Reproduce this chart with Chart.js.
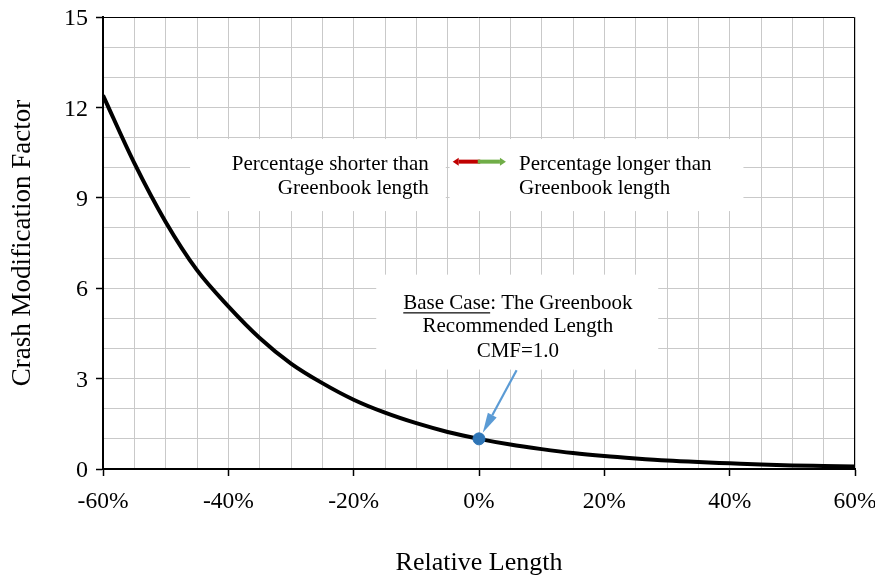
<!DOCTYPE html>
<html>
<head>
<meta charset="utf-8">
<script src="https://cdn.jsdelivr.net/npm/chart.js@4.4.1/dist/chart.umd.min.js"></script>
<style>
  html, body { margin: 0; padding: 0; background: #fff; }
  #wrap { width: 875px; height: 577px; }
</style>
</head>
<body>
<div id="wrap"><canvas id="myChart" width="875" height="577"></canvas></div>
<script>
// values
const relLength = [-60, -55, -50, -45, -40, -35, -30, -25, -20, -15, -10, -5, 0,
                   5, 10, 15, 20, 25, 30, 35, 40, 45, 50, 55, 60];
const cmf = [12.4, 10.15, 8.2, 6.6, 5.4, 4.35, 3.5, 2.85, 2.3, 1.87, 1.52, 1.23, 1.0,
             0.81, 0.66, 0.53, 0.43, 0.35, 0.28, 0.23, 0.19, 0.15, 0.12, 0.10, 0.08];
const baseCase = [{ x: 0, y: 1.0 }];

const serif = "'Liberation Serif', 'Times New Roman', serif";
const gridGray = '#c9c9c9';

function arrow(c, x1, y1, x2, y2, color, width, headLen, headW) {
    const a = Math.atan2(y2 - y1, x2 - x1);
    const bx = x2 - headLen * Math.cos(a), by = y2 - headLen * Math.sin(a);
    c.strokeStyle = color;
    c.lineWidth = width;
    c.beginPath();
    c.moveTo(x1, y1);
    c.lineTo(bx, by);
    c.stroke();
    c.fillStyle = color;
    c.beginPath();
    c.moveTo(x2, y2);
    c.lineTo(bx + headW * Math.sin(a), by - headW * Math.cos(a));
    c.lineTo(bx - headW * Math.sin(a), by + headW * Math.cos(a));
    c.closePath();
    c.fill();
}

const notes = {
    id: 'notes',
    beforeDatasetsDraw(chart) {
        const c = chart.ctx, x = chart.scales.x, y = chart.scales.y;
        const px = v => x.getPixelForValue(v), py = v => y.getPixelForValue(v);
        c.save();
        // white label boxes over the grid
        c.fillStyle = '#fff';
        c.fillRect(px(-46.1), py(10.95), px(-5.3) - px(-46.1), py(8.56) - py(10.95));
        c.fillRect(px(-4.7), py(10.95), px(42.2) - px(-4.7), py(8.56) - py(10.95));
        c.fillRect(px(-16.4), py(6.45), px(28.6) - px(-16.4), py(3.3) - py(6.45));

        c.fillStyle = '#000';
        c.font = '21px ' + serif;
        c.textBaseline = 'middle';
        c.textAlign = 'right';
        c.fillText('Percentage shorter than', px(-8.0), py(10.12));
        c.fillText('Greenbook length', px(-8.0), py(9.32));
        c.textAlign = 'left';
        c.fillText('Percentage longer than', px(6.4), py(10.12));
        c.fillText('Greenbook length', px(6.4), py(9.32));

        // base case label
        const cx = px(6.2);
        const t1 = 'Base Case', t2 = ': The Greenbook';
        const w1 = c.measureText(t1).width, w2 = c.measureText(t2).width;
        const sx = cx - (w1 + w2) / 2;
        c.fillText(t1, sx, py(5.5));
        c.fillText(t2, sx + w1, py(5.5));
        c.fillRect(sx, py(5.5) + 9, w1, 1.2);
        c.textAlign = 'center';
        c.fillText('Recommended Length', cx, py(4.72));
        c.fillText('CMF=1.0', cx, py(3.9));

        // red / green direction arrow
        const ay = py(10.2);
        arrow(c, px(0.2), ay, px(-4.2), ay, '#c00000', 4, 6, 4);
        arrow(c, px(-0.2), ay, px(4.3), ay, '#70ad47', 4, 6, 4);
        c.restore();
    },
    afterDatasetsDraw(chart) {
        const c = chart.ctx, x = chart.scales.x, y = chart.scales.y;
        const px = v => x.getPixelForValue(v), py = v => y.getPixelForValue(v);
        c.save();
        arrow(c, px(6.0), py(3.28), px(0.6), py(1.2), '#5b9bd5', 2.2, 20, 5);
        // frame on top and right
        const a = chart.chartArea;
        c.strokeStyle = '#000';
        c.lineWidth = 1;
        c.beginPath();
        c.moveTo(a.left, a.top + 0.5);
        c.lineTo(a.right - 0.5, a.top + 0.5);
        c.lineTo(a.right - 0.5, a.bottom);
        c.stroke();
        c.restore();
    }
};

const ctx = document.getElementById('myChart').getContext('2d');
const myChart = new Chart(ctx, {
    type: 'scatter',
    data: {
        datasets: [{
            label: 'Base case',
            data: baseCase,
            pointRadius: 6,
            pointBackgroundColor: '#2e75b6',
            pointBorderColor: '#2e75b6',
            order: 0
        }, {
            label: 'CMF',
            data: relLength.map((v, i) => ({ x: v, y: cmf[i] })),
            showLine: true,
            borderColor: '#000',
            borderWidth: 4,
            pointRadius: 0,
            cubicInterpolationMode: 'monotone',
            order: 1
        }]
    },
    options: {
        responsive: false,
        animation: false,
        events: [],
        layout: { padding: { top: 17, right: 20, left: 0, bottom: 0 } },
        plugins: {
            legend: { display: false },
            title: { display: false },
            tooltip: { enabled: false }
        },
        scales: {
            x: {
                type: 'linear',
                min: -60,
                max: 60,
                afterFit: s => { s.height = 108; s.paddingLeft = 0; s.paddingRight = 0; },
                ticks: {
                    stepSize: 5,
                    autoSkip: false,
                    maxRotation: 0,
                    minRotation: 0,
                    padding: 12,
                    color: '#000',
                    font: { family: serif, size: 23.5 },
                    callback: v => (v % 20 === 0 ? v + '%' : '')
                },
                grid: {
                    color: gridGray,
                    lineWidth: 1,
                    tickLength: 7,
                    tickColor: c => (c.tick && c.tick.value % 20 === 0 ? '#000' : 'rgba(0,0,0,0)'),
                    tickWidth: 1.5
                },
                border: { color: '#000', width: 2 },
                title: {
                    display: true,
                    text: 'Relative Length',
                    color: '#000',
                    font: { family: serif, size: 26, lineHeight: 1.0 },
                    padding: { top: 0, bottom: 1 }
                }
            },
            y: {
                min: 0,
                max: 15,
                afterFit: s => { s.width = 103; s.paddingTop = 0; s.paddingBottom = 0; },
                ticks: {
                    stepSize: 1,
                    autoSkip: false,
                    padding: 8,
                    labelOffset: 2,
                    color: '#000',
                    font: { family: serif, size: 24 },
                    callback: v => (v % 3 === 0 ? v : '')
                },
                grid: {
                    color: gridGray,
                    lineWidth: 1,
                    tickLength: 7,
                    tickColor: c => (c.tick && c.tick.value % 3 === 0 ? '#000' : 'rgba(0,0,0,0)'),
                    tickWidth: 1.5
                },
                border: { color: '#000', width: 2 },
                title: {
                    display: true,
                    text: 'Crash Modification Factor',
                    color: '#000',
                    font: { family: serif, size: 27 },
                    padding: { top: 7, bottom: 0 }
                }
            }
        }
    },
    plugins: [notes]
});
</script>
</body>
</html>
